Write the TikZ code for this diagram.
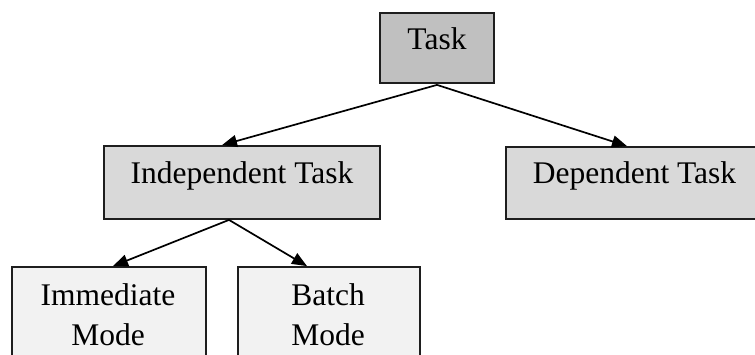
\documentclass[tikz,border=0pt]{standalone}
\usepackage{fontspec}
\setmainfont{Liberation Serif}
\usetikzlibrary{arrows.meta}
\definecolor{taskfill}{HTML}{C0C0C0}
\definecolor{midfill}{HTML}{D9D9D9}
\definecolor{lowfill}{HTML}{F2F2F2}
\definecolor{edgecol}{HTML}{1E1E1E}
\tikzset{
  box/.style={draw=edgecol, line width=1.8pt, inner sep=0pt, rectangle},
  lbl/.style={inner sep=0pt, anchor=base, align=center,
    font=\fontsize{31.5}{40}\selectfont},
  conn/.style={draw=black, line width=1.7pt,
    -{Triangle[length=15pt,width=12pt]}}
}
\begin{document}
\begin{tikzpicture}[x=1pt,y=-1pt]
\useasboundingbox (0,0) rectangle (755,354);
\clip (0,0) rectangle (755,354);
\node[box, fill=taskfill, minimum width=114pt, minimum height=70pt] (task) at (437,48) {};
\node[box, fill=midfill, minimum width=276pt, minimum height=73pt] (ind) at (242,182.5) {};
\node[box, fill=midfill, minimum width=257pt, minimum height=72pt] (dep) at (634.5,183) {};
\node[box, fill=lowfill, minimum width=194pt, minimum height=113pt] (imm) at (109,323.5) {};
\node[box, fill=lowfill, minimum width=182pt, minimum height=113pt] (bat) at (329,323.5) {};
\node[lbl] (task-t) at (437,49) {Task};
\node[lbl] (ind-t) at (242,183) {Independent Task};
\node[lbl] (dep-t) at (634.5,183) {Dependent Task};
\node[lbl] (imm-t) at (108,345) {Immediate\\Mode};
\node[lbl] (bat-t) at (328,345) {Batch\\Mode};
\draw[conn] ([yshift=-1pt]task.south) -- ([xshift=-20pt]ind.north);
\draw[conn] ([yshift=-1pt]task.south) -- ([xshift=-7.5pt]dep.north);
\draw[conn] ([xshift=-13pt]ind.south) -- ([xshift=4pt]imm.north);
\draw[conn] ([xshift=-13pt]ind.south) -- ([xshift=-22pt]bat.north);
\end{tikzpicture}
\end{document}
